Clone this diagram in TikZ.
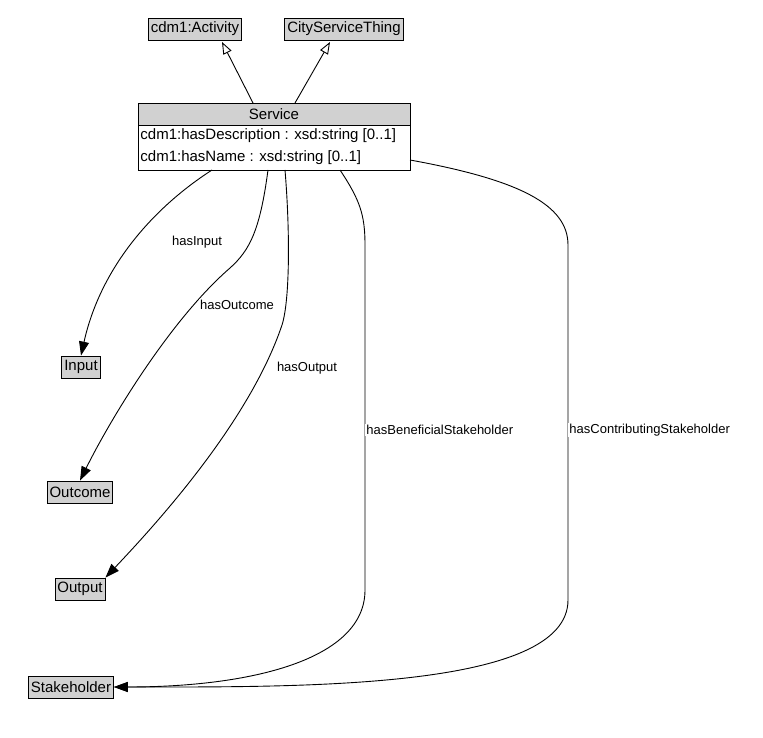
\documentclass[tikz,border=0pt]{standalone}
\usepackage{fontspec}
\setmainfont{Liberation Sans}
\usetikzlibrary{arrows.meta}
\begin{document}
\begin{tikzpicture}[x=1pt,y=-1pt,line width=0.9pt,
  cls/.style={draw,fill=black!18,inner sep=2.5pt,minimum height=22pt,font=\fontsize{15}{17}\selectfont},
  lbl/.style={font=\fontsize{13}{15}\selectfont,fill=white,inner sep=1pt},
  rel/.style={draw,-{Triangle[length=14pt,width=10pt]}},
  inh/.style={draw,-{Triangle[open,length=12pt,width=9pt]}}]
\useasboundingbox (0,0) rectangle (763,738);
\node[cls] (act) at (195,29) {cdm1:Activity};
\node[cls] (cst) at (344,29) {CityServiceThing};
\fill[black!18] (138,103) rectangle (410,125);
\draw (138,103) rectangle (410,170);
\draw (138,125) -- (410,125);
\node[font=\fontsize{15}{17}\selectfont] (svc) at (274,114) {Service};
\node[font=\fontsize{15}{17}\selectfont,anchor=west,inner sep=1pt] (d1) at (139,136) {cdm1:hasDescription : xsd:string [0..1]};
\node[font=\fontsize{15}{17}\selectfont,anchor=west,inner sep=1pt] (d2) at (139,158) {cdm1:hasName : xsd:string [0..1]};
\coordinate (s1) at (253,103); \coordinate (s2) at (295,103);
\coordinate (b1) at (212,170); \coordinate (b2) at (268,170); \coordinate (b3) at (285,170);
\coordinate (b4) at (340,170); \coordinate (b5) at (410,160);
\node[cls] (inp) at (81,367) {Input};
\node[cls] (outc) at (80,492) {Outcome};
\node[cls] (outp) at (80,589) {Output};
\node[cls] (stk) at (71,687) {Stakeholder};
\coordinate (a1) at (222,42); \coordinate (a2) at (330,42);
\draw[inh] (s1) -- (a1);
\draw[inh] (s2) -- (a2);
\draw[rel] (b1) .. controls (150,210) and (100,270) .. (inp.north);
\node[lbl] at (197,242) {hasInput};
\draw[rel] (b2) .. controls (260,230) and (250,250) .. (230,268) .. controls (170,320) and (110,420) .. (outc.north);
\node[lbl] at (237,305) {hasOutcome};
\draw[rel] (b3) .. controls (290,230) and (290,300) .. (282,325) .. controls (250,420) and (160,520) .. (outp.north east);
\node[lbl] at (307,368) {hasOutput};
\draw[rel] (b4) .. controls (360,200) and (365,215) .. (365,245) -- (365,590) .. controls (365,660) and (250,687) .. (stk.east);
\node[lbl,anchor=west] at (365,430) {hasBeneficialStakeholder};
\draw[rel] (b5) .. controls (520,180) and (568,205) .. (568,245) -- (568,600) .. controls (568,690) and (300,687) .. (stk.east);
\node[lbl,anchor=west] at (568,430) {hasContributingStakeholder};
\end{tikzpicture}
\end{document}
